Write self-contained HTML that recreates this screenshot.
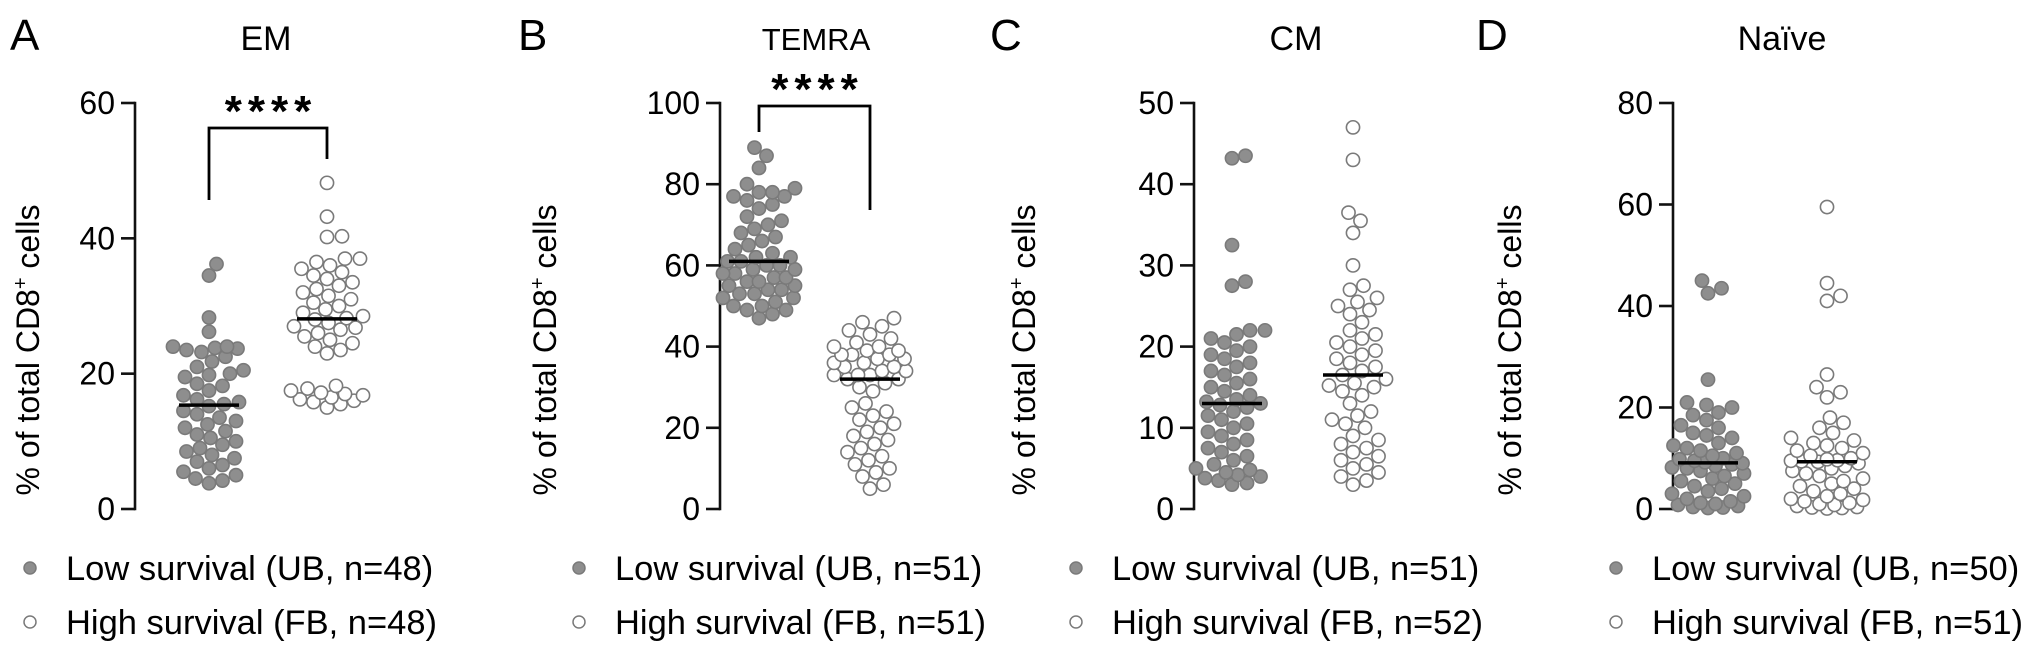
<!DOCTYPE html>
<html><head><meta charset="utf-8"><style>
html,body{margin:0;padding:0;background:#fff;}
svg{display:block;font-family:"Liberation Sans",Arial,sans-serif;}
</style></head><body>
<svg id="chart" width="2032" height="648" viewBox="0 0 2032 648"></svg>
<script>
// ---- data ----
const panelLetters = ["A","B","C","D"];
const panelTitles = ["EM","TEMRA","CM","Naïve"];
const yMaxes = [60,100,50,80];
const tickStepsArr = [20,20,10,20];
const lowNs = [48,51,51,50];
const highNs = [48,51,52,51];
const lowA = [36.2,34.5,28.3,26.2,24,24,23.8,23.5,23.7,23.2,22.5,21.8,21,20.5,20,19.5,19.8,18.5,18.2,17.5,16.8,16.2,15.5,15.8,15.2,14.5,14,13.5,13,12.5,12,11.5,11,10.5,10,9.5,9,8.5,8,7.5,7,6.5,6,5.5,5,4.5,4.2,3.8];
const highA = [48.2,43.2,40.2,40.3,37,37,36.5,36,35.5,35,34.5,34,33.5,33,32.5,32,31.5,31,30.5,30,29.5,29,28.5,28.2,28,27.5,27,26.8,26.5,26,25.5,25,24.5,24,23.5,23,18.2,17.8,17.5,17.2,17,16.8,16.5,16.2,16,15.8,15.5,15];
const lowB = [89,87,84,80,79,78,78,77,77,76,75,74,72,71,70,69,68,67,66,65,64,63,62,62,61,61,60,60,59,59,58,58,57,57,56,56,55,55,54,54,53,53,52,52,51,50,50,49,49,48,47];
const highB = [47,46,45,44,43,42,41,40,40,39,38,38,37,37,36,36,35,35,34,34,33,33,33,32,32,31,30,29,39,38,26,25,24,23,22,21,20,19,18,17,16,15,14,13,12,11,10,9,8,6,5];
const lowC = [43.5,43.2,32.5,28,27.5,22,22,21.5,21,20.5,20,19.5,19,18.5,18,17.5,17,16.5,16,15.5,15,14.5,14,13.5,13.2,13,12.8,12.5,12,11.5,11,10.5,10,9.5,9,8.5,8,7.5,7,6.5,6,5.5,5,4.8,4.5,4.2,4,3.8,3.5,3.2,3];
const highC = [47,43,36.5,35.5,34,30,27.5,27,26,25.5,25,24.5,24,23,22,21.5,21,20.5,20,19.5,19,18.5,18,17.5,17,16.5,16,15.5,15.2,15,14.5,14,13,12,11.5,11,10.5,10,9,8.5,8,7.5,7,6.5,6,5.5,5,4.5,4,3.5,3];
const lowD = [45,43.5,42.5,25.5,21,20.5,20,19,18.5,17.5,16.5,16,15,14.5,14,13,12.5,12,11.5,11,10.5,10,9.8,9.5,9.2,9,8.8,8.5,8.2,8,7.5,7,6.5,6,5.5,5,4.5,4,3.5,3,2.5,2,1.5,1.2,1,0.8,0.6,0.4,0.3,0.2];
const highD = [59.5,44.5,42,41,26.5,24,23,22,18,17,16,15,14,13.5,13,12.5,12,11.5,11,10.5,10,9.8,9.6,9.5,9.4,9.3,9,8.5,8,7.5,7,6.5,6,5.5,5,4.5,4,3.5,3,2.5,2,1.8,1.5,1.2,1,0.8,0.6,0.4,0.3,0.2,0.1];
const lowSeries = [lowA,lowB,lowC,lowD];
const highSeries = [highA,highB,highC,highD];
const sigLabels = ["****","****","",""];

// ---- layout ----
const axisX = [135,720,1194,1673];
const lowX = [209,759,1232,1708];
const highX = [327,870,1353,1827];
const yTitleX = [28,545,1024,1510];
const titleX = [266,816,1296,1782];
const titleSize = [34,31,34,34];
const letterX = [10,518,990,1476];
const legDotX = [30,579,1076,1616];
const bracketTop = [128,106];
const bracketLeft = [200,132];
const bracketRight = [159,210];
const Y0 = 509, YTOP = 103, R = 6.6, W = 36;
const NS = "http://www.w3.org/2000/svg";
const svg = document.getElementById('chart');
function mk(tag, attrs, parent){const e=document.createElementNS(NS,tag);for(const k in attrs)e.setAttribute(k,attrs[k]);(parent||svg).appendChild(e);return e;}
function median(a){const s=[...a].sort((x,y)=>x-y);const n=s.length;return n%2?s[(n-1)/2]:(s[n/2-1]+s[n/2])/2;}
function swarm(vals, cx, ys){
  const placed=[];const D=2*R+0.5;
  const sorted=vals.map(v=>ys(v)).sort((a,b)=>b-a);
  for(const y of sorted){
    let best=null,bestScore=-1;
    for(let k=0;k<=2*W/1.5;k++){
      const off=(k%2?1:-1)*Math.ceil(k/2)*1.5;
      if(Math.abs(off)>W)break;
      const x=cx+off;
      let md=1e9;for(const p of placed){const d=Math.hypot(p[0]-x,p[1]-y);if(d<md)md=d;}
      if(md>=D){best=x;break;}
      if(md>bestScore){bestScore=md;best=x;}
    }
    placed.push([best,y]);
  }
  return placed;
}
for(let p=0;p<4;p++){
  const g=mk('g',{});
  
  
  const ys=v=>Y0-v/yMaxes[p]*(Y0-YTOP);
  let t=mk('text',{x:letterX[p],y:50,'font-size':44},g);t.textContent=panelLetters[p];
  
  t=mk('text',{x:titleX[p],y:50,'font-size':titleSize[p],'text-anchor':'middle'},g);t.textContent=panelTitles[p];
  
  let a=mk('line',{x1:axisX[p],x2:axisX[p],y1:YTOP-1.3,y2:Y0+1.3,stroke:'#111','stroke-width':2.6},g);
  
  for(let v=0;v<=yMaxes[p];v+=tickStepsArr[p]){
    const y=ys(v);
    let tk=mk('line',{x1:axisX[p]-14,x2:axisX[p],y1:y,y2:y,stroke:'#111','stroke-width':2.6},g);
    
    let tl=mk('text',{x:axisX[p]-20,y:y+11,'font-size':32,'text-anchor':'end'},g);tl.textContent=v;
    
  }
  const yt=mk('text',{transform:`translate(${yTitleX[p]+11},350) rotate(-90)`,'font-size':32,'text-anchor':'middle'},g);
  
  yt.appendChild(document.createTextNode('% of total CD8'));
  const sup=mk('tspan',{'font-size':20,dy:-12},yt);sup.textContent='+';
  const rest=mk('tspan',{dy:12},yt);rest.textContent=' cells';
  const groups=[[lowSeries[p],lowX[p],'#8e8e8e','low'],[highSeries[p],highX[p],'#ffffff','high']];
  for(const [vals,cx,fill,nm] of groups){
    for(const [x,y] of swarm(vals,cx,ys)){
      const c=mk('circle',{cx:x,cy:y,r:R,fill:fill,stroke:'#7a7a7a','stroke-width':1.6},g);
      
      
    }
    const m=ys(median(vals));
    const ml=mk('line',{x1:cx-30,x2:cx+30,y1:m,y2:m,stroke:'#000','stroke-width':3.5},g);
    
  }
  if(sigLabels[p]){
    const top=bracketTop[p];
    const br=mk('path',{d:`M${lowX[p]},${bracketLeft[p]} V${top} H${highX[p]} V${bracketRight[p]}`,fill:'none',stroke:'#000','stroke-width':2.8},g);
    
    const st=mk('text',{x:(lowX[p]+highX[p])/2+3,y:top-2,'font-size':44,'font-weight':'bold','text-anchor':'middle','letter-spacing':6},g);
    st.textContent=sigLabels[p];
    
  }
  const leg=[[568,'#8e8e8e',`Low survival (UB, n=${lowNs[p]})`,'legend-entry-low'],[622,'#ffffff',`High survival (FB, n=${highNs[p]})`,'legend-entry-high']];
  for(const [ly,f,txt,nm] of leg){
    const lg=mk('g',{},g);
    
    mk('circle',{cx:legDotX[p],cy:ly,r:6,fill:f,stroke:'#7a7a7a','stroke-width':1.5},lg);
    const lt=mk('text',{x:legDotX[p]+36,y:ly+12,'font-size':34.5},lg);lt.textContent=txt;
  }
}
</script>
</body></html>
